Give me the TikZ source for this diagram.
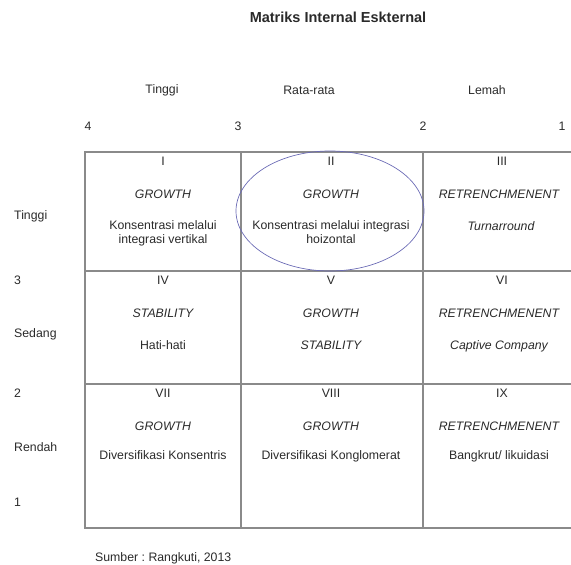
\documentclass[tikz,border=0pt]{standalone}
\usepackage{fontspec}
\setmainfont{Liberation Sans}
\definecolor{gridc}{HTML}{8A8A8A}
\definecolor{textc}{HTML}{2A2A2A}
\definecolor{ellc}{HTML}{6B6BB5}
\begin{document}
\frenchspacing
\begin{tikzpicture}[x=1pt,y=-1pt,
  lbl/.style={font=\fontsize{12.3}{14}\selectfont, text=textc, inner sep=0pt, anchor=base, align=center},
  strat/.style={lbl, font=\fontsize{12.3}{14}\selectfont\itshape},
  ttl/.style={lbl, font=\fontsize{14.5}{17}\selectfont\bfseries},
  gridline/.style={draw=gridc, line width=1.2pt},
  ring/.style={draw=ellc, line width=0.7pt}]
\useasboundingbox (0,0) rectangle (571,565);
% title
\node[ttl] (title) at (338,22.5) {Matriks Internal Eskternal};
% column headers
\node[lbl] (hT) at (162,93) {Tinggi};
\node[lbl] (hR) at (309,94) {Rata-rata};
\node[lbl] (hL) at (487,94) {Lemah};
\node[lbl] (n4) at (88,130.5) {4};
\node[lbl] (n3) at (238,130.5) {3};
\node[lbl] (n2) at (423,130.5) {2};
\node[lbl] (n1) at (562,130.5) {1};
% row labels
\node[lbl, anchor=base west] (rT) at (14,219) {Tinggi};
\node[lbl, anchor=base west] (r3) at (14,284.5) {3};
\node[lbl, anchor=base west] (rS) at (14,337) {Sedang};
\node[lbl, anchor=base west] (r2) at (14,397.5) {2};
\node[lbl, anchor=base west] (rR) at (14,451.5) {Rendah};
\node[lbl, anchor=base west] (r1) at (14,506.5) {1};
% grid
\draw[gridline] (571,152) -- (85,152) -- (85,528) -- (571,528);
\draw[gridline] (85,271) -- (571,271);
\draw[gridline] (85,384) -- (571,384);
\draw[gridline] (241,152) -- (241,528);
\draw[gridline] (423,152) -- (423,528);
% row 1
\node[lbl] (c1n) at (163,165) {I};
\node[strat] (c1s) at (163,198) {GROWTH};
\node[lbl] (c1d) at (163,229.5) {Konsentrasi melalui};
\node[lbl] (c1e) at (163,243) {integrasi vertikal};
\node[lbl] (c2n) at (331,165) {II};
\node[strat] (c2s) at (331,198) {GROWTH};
\node[lbl] (c2d) at (331,229.5) {Konsentrasi melalui integrasi};
\node[lbl] (c2e) at (331,243) {hoizontal};
\node[lbl] (c3n) at (502,165) {III};
\node[strat] (c3s) at (499,198) {RETRENCHMENENT};
\node[strat] (c3d) at (501,230) {Turnarround};
% row 2
\node[lbl] (c4n) at (163,284) {IV};
\node[strat] (c4s) at (163,317) {STABILITY};
\node[lbl] (c4d) at (163,349) {Hati-hati};
\node[lbl] (c5n) at (331,284) {V};
\node[strat] (c5s) at (331,317) {GROWTH};
\node[strat] (c5d) at (331,349) {STABILITY};
\node[lbl] (c6n) at (502,284) {VI};
\node[strat] (c6s) at (499,317) {RETRENCHMENENT};
\node[strat] (c6d) at (499,349) {Captive Company};
% row 3
\node[lbl] (c7n) at (163,397) {VII};
\node[strat] (c7s) at (163,430) {GROWTH};
\node[lbl] (c7d) at (163,459) {Diversifikasi Konsentris};
\node[lbl] (c8n) at (331,397) {VIII};
\node[strat] (c8s) at (331,430) {GROWTH};
\node[lbl] (c8d) at (331,459) {Diversifikasi Konglomerat};
\node[lbl] (c9n) at (502,397) {IX};
\node[strat] (c9s) at (499,430) {RETRENCHMENENT};
\node[lbl] (c9d) at (499,459) {Bangkrut/ likuidasi};
% source
\node[lbl, anchor=base west] (src) at (95,561) {Sumber : Rangkuti, 2013};
% highlight ellipse
\coordinate (ec) at (330,211);
\draw[ring] (ec) ellipse [x radius=94, y radius=60];
\end{tikzpicture}
\end{document}
